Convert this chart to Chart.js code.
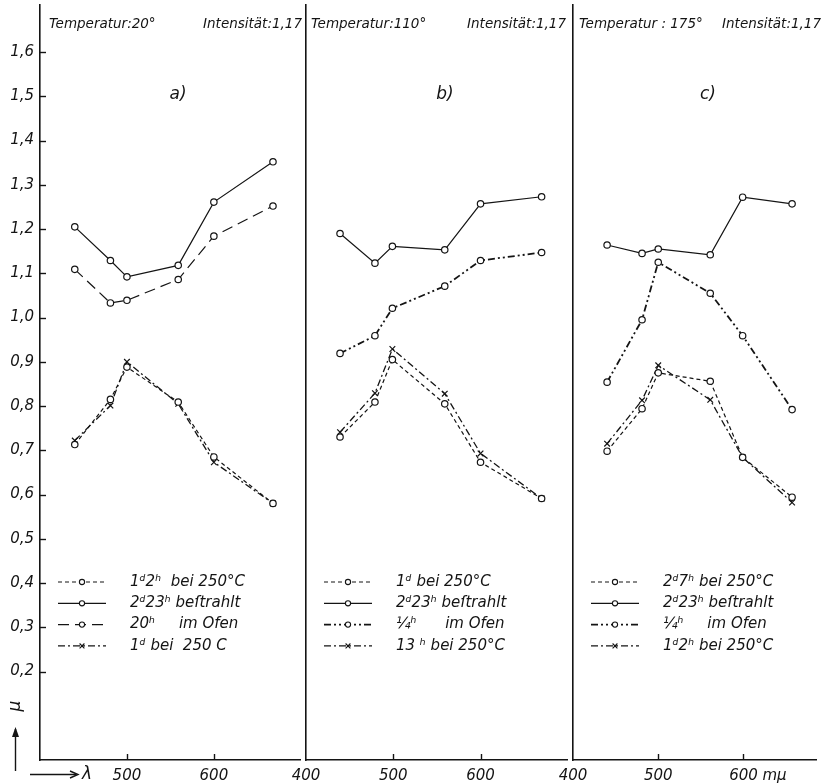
<!DOCTYPE html>
<html>
<head>
<meta charset="utf-8">
<script src="https://cdn.jsdelivr.net/npm/chart.js@4.4.1/dist/chart.umd.min.js"></script>
<style>
  body { margin: 0; background: #fff; }
  #wrap { position: relative; width: 822px; height: 784px; overflow: hidden; background: #fff; }
  #wrap canvas { position: absolute; top: 0; }
</style>
</head>
<body>
<div id="wrap">
  <canvas id="chart-a" width="306" height="784" style="left:0px"></canvas>
  <canvas id="chart-b" width="297" height="784" style="left:276px"></canvas>
  <canvas id="chart-c" width="279" height="784" style="left:543px"></canvas>
</div>
<script>
const yTicks = [0.2, 0.3, 0.4, 0.5, 0.6, 0.7, 0.8, 0.9, 1.0, 1.1, 1.2, 1.3, 1.4, 1.5, 1.6];
const xTicks = [400, 500, 600];

// a) Temperatur 20°
const lambdaA = [440, 481, 500, 559, 600, 668];
const a1d2h = [0.713, 0.815, 0.888, 0.809, 0.685, 0.580];
const a2d23h = [1.205, 1.129, 1.092, 1.118, 1.261, 1.352];
const a20h = [1.109, 1.033, 1.039, 1.086, 1.184, 1.252];
const a1d = [0.722, 0.801, 0.900, 0.805, 0.673, 0.580];
const labelsA = ['1ᵈ2ʰ  bei 250°C', '2ᵈ23ʰ beſtrahlt', '20ʰ     im Ofen', '1ᵈ bei  250 C'];

// b) Temperatur 110°
const lambdaB = [439, 479, 499, 559, 600, 670];
const b1d = [0.730, 0.809, 0.905, 0.805, 0.673, 0.591];
const b2d23h = [1.190, 1.123, 1.161, 1.153, 1.257, 1.273];
const bQuarter = [0.919, 0.959, 1.021, 1.071, 1.129, 1.147];
const b13h = [0.741, 0.829, 0.929, 0.828, 0.693, 0.591];
const labelsB = ['1ᵈ bei 250°C', '2ᵈ23ʰ beſtrahlt', '¼ʰ      im Ofen', '13 ʰ bei 250°C'];

// c) Temperatur 175°
const lambdaC = [440, 481, 500, 561, 599, 657];
const c2d7h = [0.698, 0.794, 0.875, 0.856, 0.684, 0.594];
const c2d23h = [1.164, 1.145, 1.155, 1.142, 1.272, 1.257];
const cQuarter = [0.854, 0.995, 1.125, 1.055, 0.959, 0.792];
const c1d2h = [0.715, 0.813, 0.892, 0.814, 0.684, 0.582];
const labelsC = ['2ᵈ7ʰ bei 250°C', '2ᵈ23ʰ beſtrahlt', '¼ʰ     im Ofen', '1ᵈ2ʰ bei 250°C'];

const INK = '#141414';
const FONT = '"DejaVu Sans", "Liberation Sans", sans-serif';

const lineStyles = {
  shortDash: { borderDash: [4, 3], borderWidth: 1.2, pointStyle: 'circle', pointRadius: 3.2 },
  solid: { borderDash: [], borderWidth: 1.2, pointStyle: 'circle', pointRadius: 3.2 },
  longDash: { borderDash: [11, 6], borderWidth: 1.2, pointStyle: 'circle', pointRadius: 3.2 },
  dashDot: { borderDash: [7, 3, 2, 3], borderWidth: 1.3, pointStyle: 'crossRot', pointRadius: 4 },
  dashDotDot: { borderDash: [7, 3, 2, 3, 2, 3], borderWidth: 1.8, pointStyle: 'circle', pointRadius: 3.2 },
};

// titles: [text, x, align]
const panels = [
  {
    id: 'chart-a', left: 0, axisW: 40, xMax: 700, lambda: lambdaA,
    series: [a1d2h, a2d23h, a20h, a1d],
    styles: ['shortDash', 'solid', 'longDash', 'dashDot'],
    labels: labelsA, yLabels: true, hide400: true, letter: 'a)', letterX: 178,
    titles: [['Temperatur:20°', 49, 'left'], ['Intensität:1,17', 302, 'right']],
  },
  {
    id: 'chart-b', left: 276, axisW: 30, xMax: 700, lambda: lambdaB,
    series: [b1d, b2d23h, bQuarter, b13h],
    styles: ['shortDash', 'solid', 'dashDotDot', 'dashDot'],
    labels: labelsB, yLabels: false, hide400: false, letter: 'b)', letterX: 445,
    titles: [['Temperatur:110°', 311, 'left'], ['Intensität:1,17', 566, 'right']],
  },
  {
    id: 'chart-c', left: 543, axisW: 30, xMax: 686, lambda: lambdaC,
    series: [c2d7h, c2d23h, cQuarter, c1d2h],
    styles: ['shortDash', 'solid', 'dashDotDot', 'dashDot'],
    labels: labelsC, yLabels: false, hide400: false, letter: 'c)', letterX: 708, unit: 'mμ',
    titles: [['Temperatur : 175°', 579, 'left'], ['Intensität:1,17', 821, 'right']],
  },
];

const panelDecor = {
  id: 'panelDecor',
  afterDraw(chart, args, opts) {
    const { ctx, chartArea, scales } = chart;
    const off = opts.left;
    ctx.save();
    ctx.strokeStyle = INK;
    ctx.fillStyle = INK;
    ctx.lineWidth = 1.4;

    // inward tick marks
    if (opts.yLabels) {
      yTicks.forEach((v) => {
        const y = Math.round(scales.y.getPixelForValue(v)) + 0.5;
        ctx.beginPath();
        ctx.moveTo(chartArea.left, y);
        ctx.lineTo(chartArea.left + 6, y);
        ctx.stroke();
      });
    }
    [500, 600].forEach((v) => {
      const x = Math.round(scales.x.getPixelForValue(v)) + 0.5;
      ctx.beginPath();
      ctx.moveTo(x, chartArea.bottom);
      ctx.lineTo(x, chartArea.bottom - 6);
      ctx.stroke();
    });

    // titles
    ctx.font = `italic 13.5px ${FONT}`;
    ctx.textBaseline = 'alphabetic';
    opts.titles.forEach(([text, x, align]) => {
      ctx.textAlign = align;
      ctx.fillText(text, x - off, 28);
    });

    // panel letter
    ctx.font = `italic 17px ${FONT}`;
    ctx.textAlign = 'center';
    ctx.textBaseline = 'middle';
    ctx.fillText(opts.letter, opts.letterX - off, 95);

    // legend drawn from the datasets
    const x0 = chartArea.left + 18;
    chart.data.datasets.forEach((ds, i) => {
      const y = 582 + i * 21.3;
      ctx.save();
      ctx.lineWidth = ds.borderWidth;
      ctx.setLineDash(ds.borderDash);
      ctx.beginPath();
      ctx.moveTo(x0, y);
      ctx.lineTo(x0 + 48, y);
      ctx.stroke();
      ctx.setLineDash([]);
      ctx.lineWidth = 1.1;
      ctx.fillStyle = '#fff';
      Chart.helpers.drawPoint(ctx, {
        pointStyle: ds.pointStyle,
        radius: ds.pointStyle === 'circle' ? 2.6 : 3.4,
        rotation: 0,
        borderWidth: 1.1,
      }, x0 + 24, y);
      ctx.restore();
      ctx.font = `italic 15px ${FONT}`;
      ctx.textAlign = 'left';
      ctx.textBaseline = 'middle';
      ctx.fillText(ds.label, x0 + 72, y);
    });

    // unit after the last tick label
    if (opts.unit) {
      ctx.font = `italic 15px ${FONT}`;
      ctx.textAlign = 'left';
      ctx.textBaseline = 'middle';
      ctx.fillText(opts.unit, scales.x.getPixelForValue(600) + 19, chartArea.bottom + 16);
    }

    // axis name and arrows on the first panel
    if (opts.yLabels) {
      ctx.lineWidth = 1.4;
      ctx.beginPath();
      ctx.moveTo(15.5, 771);
      ctx.lineTo(15.5, 729);
      ctx.stroke();
      ctx.beginPath();
      ctx.moveTo(12, 737);
      ctx.lineTo(15.5, 727);
      ctx.lineTo(19, 737);
      ctx.closePath();
      ctx.fill();

      ctx.beginPath();
      ctx.moveTo(30, 774.5);
      ctx.lineTo(76, 774.5);
      ctx.stroke();
      ctx.beginPath();
      ctx.moveTo(70, 771);
      ctx.lineTo(78, 774.5);
      ctx.lineTo(70, 778);
      ctx.stroke();

      ctx.font = `italic 17px ${FONT}`;
      ctx.textAlign = 'left';
      ctx.textBaseline = 'middle';
      ctx.fillText('λ', 82, 775);

      ctx.save();
      ctx.translate(16, 706);
      ctx.rotate(-Math.PI / 2);
      ctx.textAlign = 'center';
      ctx.fillText('μ', 0, 0);
      ctx.restore();
    }
    ctx.restore();
  },
};

const noPadding = (scale) => {
  scale.paddingTop = 0;
  scale.paddingBottom = 0;
  scale.paddingLeft = 0;
  scale.paddingRight = 0;
};

const buildChart = (p) => {
  const datasets = p.series.map((values, i) => {
    const st = lineStyles[p.styles[i]];
    return {
      label: p.labels[i],
      data: values.map((v, k) => ({ x: p.lambda[k], y: v })),
      borderColor: INK,
      borderWidth: st.borderWidth,
      borderDash: st.borderDash,
      pointStyle: st.pointStyle,
      pointRadius: st.pointRadius,
      pointBackgroundColor: '#fff',
      pointBorderColor: INK,
      pointBorderWidth: 1.2,
      tension: 0,
      fill: false,
      clip: false,
    };
  });

  return new Chart(document.getElementById(p.id), {
    type: 'line',
    data: { datasets },
    plugins: [panelDecor],
    options: {
      responsive: false,
      animation: false,
      events: [],
      layout: { padding: { top: 3, left: 0, right: 0, bottom: 0 } },
      plugins: {
        legend: { display: false },
        tooltip: { enabled: false },
        panelDecor: {
          left: p.left, yLabels: p.yLabels, titles: p.titles,
          letter: p.letter, letterX: p.letterX, unit: p.unit,
        },
      },
      scales: {
        x: {
          type: 'linear',
          min: 400,
          max: p.xMax,
          afterBuildTicks: (scale) => { scale.ticks = xTicks.map((v) => ({ value: v })); },
          afterFit: (scale) => { scale.height = 24; noPadding(scale); },
          grid: { display: false, drawTicks: false },
          border: { display: true, color: INK, width: 1.6 },
          ticks: {
            padding: 7,
            color: INK,
            font: { family: FONT, size: 15, style: 'italic' },
            maxRotation: 0,
            callback: (v) => (p.hide400 && v === 400 ? '' : String(v)),
          },
        },
        y: {
          type: 'linear',
          min: 0,
          max: 1.706,
          afterBuildTicks: (scale) => { scale.ticks = yTicks.map((v) => ({ value: v })); },
          afterFit: (scale) => { scale.width = p.axisW; noPadding(scale); },
          grid: { display: false, drawTicks: false },
          border: { display: true, color: INK, width: 1.6 },
          ticks: {
            display: p.yLabels,
            padding: 6,
            color: INK,
            font: { family: FONT, size: 15, style: 'italic' },
            callback: (v) => Number(v).toFixed(1).replace('.', ','),
          },
        },
      },
    },
  });
};

panels.forEach(buildChart);
</script>
</body>
</html>
